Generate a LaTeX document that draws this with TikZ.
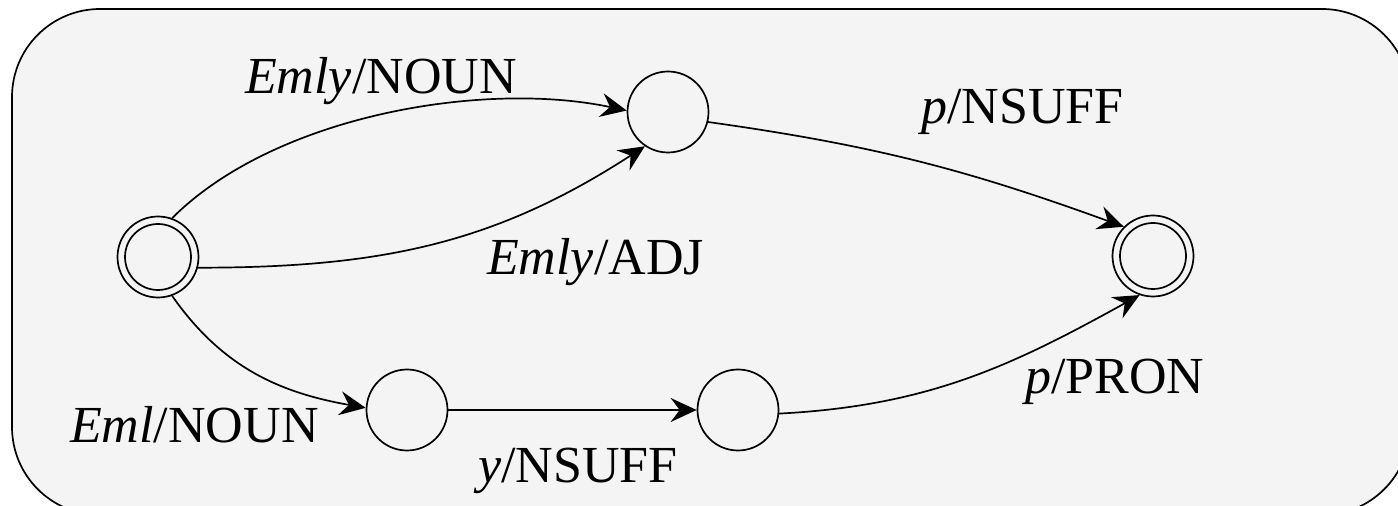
\documentclass[tikz,border=0pt]{standalone}
\usepackage{fontspec}
\setmainfont{Liberation Serif}
\usetikzlibrary{arrows.meta}
\definecolor{panel}{RGB}{244,244,244}
\tikzset{
  st/.style={circle, draw, line width=1.7pt, minimum size=81pt, inner sep=0pt},
  stin/.style={circle, draw, line width=1.7pt, minimum size=66pt, inner sep=0pt},
  lbl/.style={font=\fontsize{52}{60}\selectfont, anchor=base west, inner sep=0pt},
  edge/.style={line width=1.7pt, -{Stealth[length=26pt,width=24pt,inset=9pt]}},
}
\begin{document}
\begin{tikzpicture}[x=1pt,y=1pt]
\useasboundingbox (0,0) rectangle (1398,506);
\clip (0,0) rectangle (1398,506);
\draw[line width=1.7pt, fill=panel, rounded corners=88pt] (12,-9) rectangle (1410,497);

\node[st] (q0) at (158,249) {};
\node[stin] (q0i) at (158,249) {};
\node[st] (q1) at (668,394) {};
\node[st] (q2) at (1153,250) {};
\node[stin] (q2i) at (1153,250) {};
\node[st] (q3) at (407,96) {};
\node[st] (q4) at (738,96) {};

\draw[edge] (q0.70) to[out=45, in=168, looseness=0.8] (q1.178);
\draw[edge] (q0.-15) to[out=0, in=213] (q1.236);
\draw[edge] (q1.-14) to[out=-8, in=160] (q2.135);
\draw[edge] (q0.-70) to[out=-55, in=170] (q3.177);
\draw[edge] (q3) -- (q4);
\draw[edge] (q4.-5) to[out=3, in=209] (q2.251);

\node[lbl] (l1) at (245,412) {\textit{Emly}/NOUN};
\node[lbl] (l2) at (487,231) {\textit{Emly}/ADJ};
\node[lbl] (l3) at (921,382) {\textit{p}/NSUFF};
\node[lbl] (l4) at (1025,112) {\textit{p}/PRON};
\node[lbl] (l5) at (70,63) {\textit{Eml}/NOUN};
\node[lbl] (l6) at (478,23) {\textit{y}/NSUFF};
\end{tikzpicture}
\end{document}
